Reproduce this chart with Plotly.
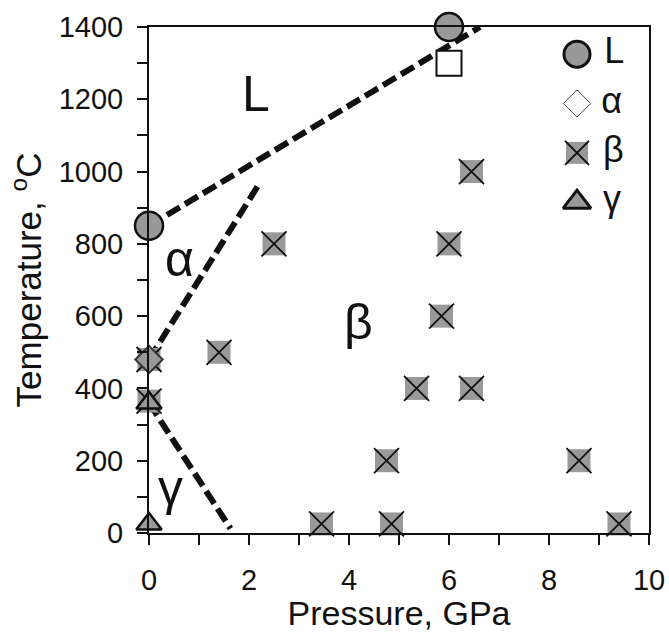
import plotly.graph_objects as go

# ---------------- data ----------------
L_p = [0, 6.0]
L_t = [850, 1400]

alpha_p = [0]
alpha_t = [480]

beta_p = [0, 0, 1.4, 2.5, 6.0, 6.45, 5.85, 5.35, 6.45, 4.75, 8.6, 3.45, 4.85, 9.4]
beta_t = [480, 365, 500, 800, 800, 1000, 600, 400, 400, 200, 200, 25, 25, 25]

gamma_p = [0, 0]
gamma_t = [360, 25]

open_p = [6.0]
open_t = [1300]

# phase boundaries (dashed)
b_L_p = [0, 6.62]
b_L_t = [850, 1400]
b_ab_p = [0, 2.2]
b_ab_t = [480, 965]
b_gb_p = [0, 1.63]
b_gb_t = [360, 12]

region_labels = ["L", "α", "β", "γ"]
region_p = [2.14, 0.6, 4.18, 0.42]
region_t = [1215, 757, 585, 125]

legend_labels = ["L", "α", "β", "γ"]

x_ticks = [0, 2, 4, 6, 8, 10]
y_ticks = [0, 200, 400, 600, 800, 1000, 1200, 1400]

GRAY = "#999999"
BLACK = "#111111"
FONT = "Liberation Sans, Arial, Helvetica, sans-serif"

fig = go.Figure()

dash_line = dict(color=BLACK, width=6, dash="15px,6px")
for bp, bt in [(b_L_p, b_L_t), (b_ab_p, b_ab_t), (b_gb_p, b_gb_t)]:
    fig.add_trace(go.Scatter(x=bp, y=bt, mode="lines", line=dash_line,
                             showlegend=False, hoverinfo="skip", cliponaxis=False))

# beta: gray square + black X
fig.add_trace(go.Scatter(x=beta_p, y=beta_t, mode="markers", showlegend=False,
                         marker=dict(symbol="square", size=23, color=GRAY, line=dict(width=0)),
                         cliponaxis=False))
fig.add_trace(go.Scatter(x=beta_p, y=beta_t, mode="markers", showlegend=False,
                         marker=dict(symbol="x-thin", size=25, color=BLACK,
                                     line=dict(width=1.8, color=BLACK)),
                         cliponaxis=False))
# open square
fig.add_trace(go.Scatter(x=open_p, y=open_t, mode="markers", showlegend=False,
                         marker=dict(symbol="square", size=25, color="white",
                                     line=dict(width=2, color=BLACK)),
                         cliponaxis=False))
# alpha
fig.add_trace(go.Scatter(x=alpha_p, y=alpha_t, mode="markers", showlegend=False,
                         marker=dict(symbol="diamond", size=21, color=GRAY,
                                     line=dict(width=2, color="#333333")),
                         cliponaxis=False))
# gamma
fig.add_trace(go.Scatter(x=gamma_p, y=gamma_t, mode="markers", showlegend=False,
                         marker=dict(symbol="triangle-up", size=22, color=GRAY,
                                     line=dict(width=2.5, color=BLACK)),
                         cliponaxis=False))
# L
fig.add_trace(go.Scatter(x=L_p, y=L_t, mode="markers", showlegend=False,
                         marker=dict(symbol="circle", size=28, color=GRAY,
                                     line=dict(width=2.5, color=BLACK)),
                         cliponaxis=False))

# ---------------- custom legend on its own axes ----------------
leg_styles = {
    "L": [dict(symbol="circle", size=26, color=GRAY, line=dict(width=3, color=BLACK))],
    "α": [dict(symbol="diamond", size=21, color="white", line=dict(width=1, color="#444444"))],
    "β": [dict(symbol="square", size=22, color=GRAY, line=dict(width=0)),
          dict(symbol="x-thin", size=24, color=BLACK, line=dict(width=2, color=BLACK))],
    "γ": [dict(symbol="triangle-up", size=24, color=GRAY, line=dict(width=3, color=BLACK))],
}
for lab in legend_labels:
    styles = leg_styles[lab]
    for i, st in enumerate(styles):
        last = i == len(styles) - 1
        kw = dict(mode="markers+text", text=[" " + lab], textposition="middle right",
                  textfont=dict(family=FONT, size=36, color=BLACK)) if last else dict(mode="markers")
        fig.add_trace(go.Scatter(
            x=[0], y=[lab], xaxis="x2", yaxis="y2",
            marker=st, showlegend=False, cliponaxis=False, hoverinfo="skip", **kw))

for lab, px, ty in zip(region_labels, region_p, region_t):
    fig.add_annotation(x=px, y=ty, text=lab, showarrow=False,
                       font=dict(family=FONT, size=50, color=BLACK))

axis_common = dict(showgrid=False, zeroline=False, showline=True, linecolor=BLACK,
                   linewidth=2, mirror=True, ticks="outside", ticklen=10, tickwidth=2,
                   tickcolor=BLACK, automargin=False,
                   tickfont=dict(family=FONT, size=29, color=BLACK))

fig.update_layout(
    width=669, height=632,
    margin=dict(l=149, r=20, t=27, b=99),
    paper_bgcolor="white", plot_bgcolor="white",
    showlegend=False,
    xaxis=dict(range=[0, 10], tickvals=x_ticks, ticklabelstandoff=10,
               minor=dict(dtick=1, ticks="outside", ticklen=10, tickwidth=2, tickcolor=BLACK),
               title=dict(text="Pressure, GPa", font=dict(family=FONT, size=34, color=BLACK),
                          standoff=4),
               **axis_common),
    yaxis=dict(range=[0, 1400], tickvals=y_ticks, ticklabelstandoff=8,
               minor=dict(dtick=100, ticks="outside", ticklen=10, tickwidth=2, tickcolor=BLACK),
               title=dict(text="Temperature, <sup>o</sup>C",
                          font=dict(family=FONT, size=35, color=BLACK), standoff=6),
               **axis_common),
    xaxis2=dict(domain=[0.856, 1.0], range=[0, 1], anchor="y2", visible=False, fixedrange=True),
    yaxis2=dict(domain=[0.605, 0.995], type="category", categoryorder="array",
                categoryarray=legend_labels, range=[3.5, -0.5], anchor="x2",
                visible=False, fixedrange=True),
)

fig.write_html("out.html")
